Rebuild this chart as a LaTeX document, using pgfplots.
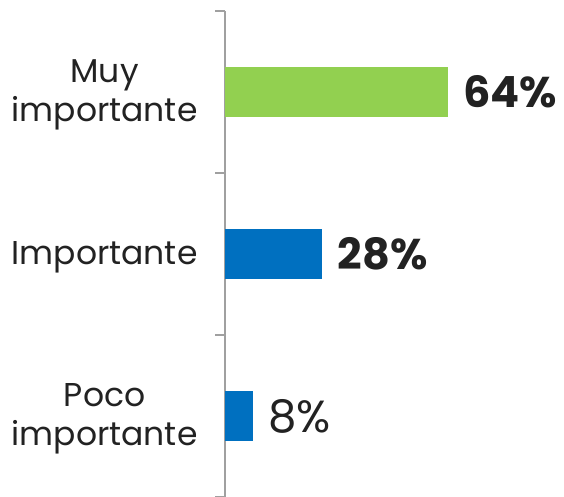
\documentclass[border=0pt]{standalone}
\usepackage{pgfplots}
\pgfplotsset{compat=1.18}
\usepackage{fontspec}
\setmainfont{Poppins}
\definecolor{bgreen}{HTML}{92D050}
\definecolor{bblue}{HTML}{0070C0}
\definecolor{axgray}{HTML}{A0A0A0}
\definecolor{txt}{HTML}{222222}
\begin{document}
\begin{tikzpicture}[x=1pt,y=1pt]
\useasboundingbox (0,0) rectangle (564,497);
\begin{axis}[
  at={(225pt,0pt)}, anchor=south west,
  scale only axis, width=339pt, height=486pt,
  xmin=0, xmax=97.4, ymin=-0.5, ymax=2.5,
  axis x line=none,
  axis y line*=left,
  y axis line style={axgray, line width=1.2pt},
  ytick={0,1,2},
  yticklabels={{Poco\\importante},{Importante},{Muy\\importante}},
  ytick style={axgray, line width=1.2pt},
  tick align=outside,
  major tick length=0pt,
  extra y ticks={-0.5,0.5,1.5,2.5},
  extra y tick labels={},
  extra y tick style={major tick length=10pt, tick align=outside},
  yticklabel style={align=center, font=\fontsize{33}{39}\selectfont, text=txt, xshift=-24pt, yshift=-3pt},
  xbar, bar width=50pt, bar shift=0pt,
  clip=false,
]
\addplot[fill=bgreen, draw=none, nodes near coords={\textbf{64\%}}, nodes near coords style={font=\fontsize{43}{46}\selectfont, text=txt, anchor=west, xshift=12pt}] coordinates {(64,2)};
\addplot[fill=bblue, draw=none, nodes near coords={\textbf{28\%}}, nodes near coords style={font=\fontsize{43}{46}\selectfont, text=txt, anchor=west, xshift=12pt}] coordinates {(28,1)};
\addplot[fill=bblue, draw=none, nodes near coords={8\%}, nodes near coords style={font=\fontsize{45}{46}\selectfont, text=txt, anchor=west, xshift=12pt}] coordinates {(8,0)};
\end{axis}
\end{tikzpicture}
\end{document}
